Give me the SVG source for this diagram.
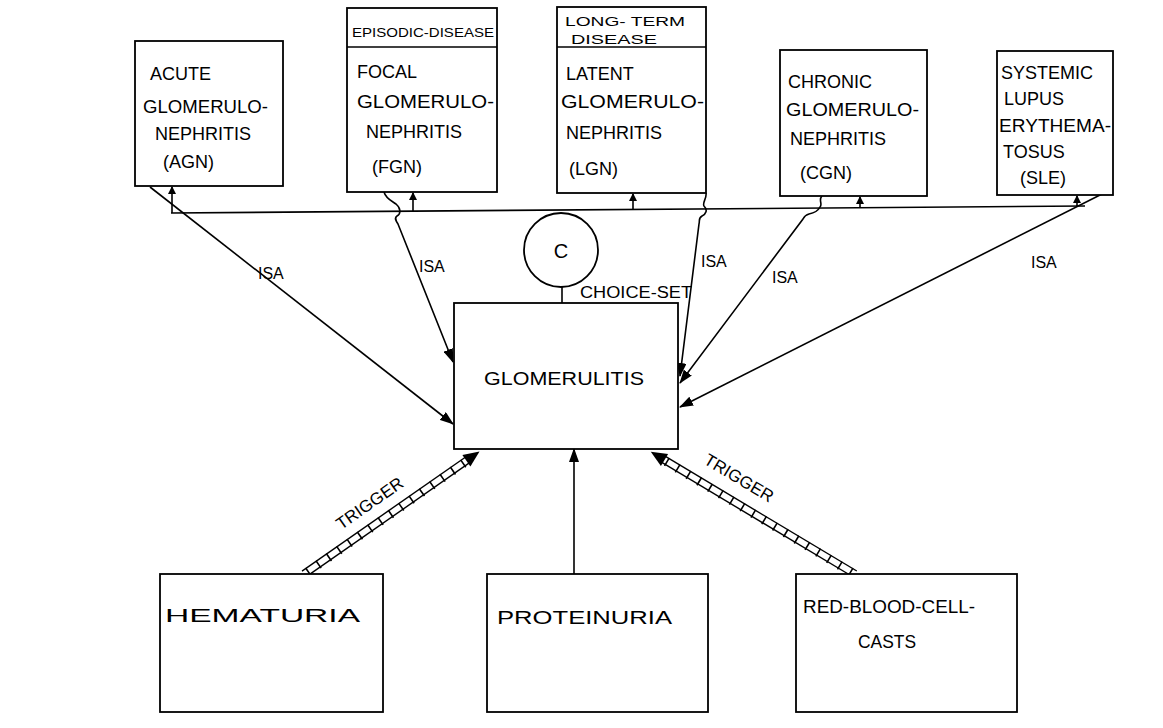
<svg xmlns="http://www.w3.org/2000/svg" width="1163" height="728" viewBox="0 0 1163 728">
<style>
.box{fill:#fff;stroke:#000;stroke-width:1.8}
.ln{fill:none;stroke:#000;stroke-width:1.6}
.t{font-family:"Liberation Sans",Arial,sans-serif;font-size:18px;fill:#000}
.h{font-family:"Liberation Sans",Arial,sans-serif;font-size:13px;fill:#000}
.s{font-family:"Liberation Sans",Arial,sans-serif;font-size:16px;fill:#000}
</style>
<defs>
<marker id="ah" viewBox="0 0 14 10" refX="13" refY="5" markerWidth="14" markerHeight="10" markerUnits="userSpaceOnUse" orient="auto">
<path d="M0,0 L14,5 L0,10 Z" fill="#000"/>
</marker>
<marker id="up" viewBox="0 0 8 8" refX="7" refY="4" markerWidth="8" markerHeight="8" markerUnits="userSpaceOnUse" orient="auto">
<path d="M0,0 L8,4 L0,8 Z" fill="#000"/>
</marker>
</defs>
<rect width="1163" height="728" fill="#fff"/>

<g id="connectors">
<line class="ln" x1="171" y1="213" x2="1085" y2="206"/>
<line class="ln" x1="172" y1="213" x2="172" y2="187" marker-end="url(#up)"/>
<line class="ln" x1="413" y1="212" x2="413" y2="193" marker-end="url(#up)"/>
<line class="ln" x1="633" y1="210" x2="633" y2="194" marker-end="url(#up)"/>
<line class="ln" x1="860" y1="208" x2="860" y2="197" marker-end="url(#up)"/>
<line class="ln" x1="1077" y1="207" x2="1077" y2="196" marker-end="url(#up)"/>
<line class="ln" x1="562" y1="287" x2="562" y2="303"/>
<path class="ln" d="M150,187 L453,424" marker-end="url(#ah)"/>
<path class="ln" d="M384,192 C386,199 392,201 396,204 C401,208 401,214 397,216 C394,218 396,221 398,224 L453,362" marker-end="url(#ah)"/>
<path class="ln" d="M706,193 C707,198 702,203 704,206 C708,210 706,214 702,216 C698,218 700,221 699,224 L680,376" marker-end="url(#ah)"/>
<path class="ln" d="M822,196 C818,200 823,204 820,207 C818,211 814,213 809,214 C805,215 804,217 803,219 L680,383" marker-end="url(#ah)"/>
<path class="ln" d="M1104,193 L680,407" marker-end="url(#ah)"/>
<circle cx="1104" cy="193" r="2" fill="#000"/>
<line class="ln" x1="574" y1="574" x2="574" y2="449" marker-end="url(#ah)"/>
<g transform="translate(304,574) rotate(-34.9)">
<line x1="0" y1="-3.5" x2="200" y2="-3.5" stroke="#000" stroke-width="1.4"/>
<line x1="0" y1="3.5" x2="200" y2="3.5" stroke="#000" stroke-width="1.4"/>
<line x1="4" y1="0.5" x2="200" y2="0.5" stroke="#000" stroke-width="9" stroke-dasharray="1.6 11"/>
<path d="M198,-7 L214,0 L198,7 Z" fill="#000"/>
</g>
<g transform="translate(855,574) rotate(-149.1)">
<line x1="0" y1="-3.5" x2="224" y2="-3.5" stroke="#000" stroke-width="1.4"/>
<line x1="0" y1="3.5" x2="224" y2="3.5" stroke="#000" stroke-width="1.4"/>
<line x1="4" y1="-0.5" x2="224" y2="-0.5" stroke="#000" stroke-width="9" stroke-dasharray="1.6 11"/>
<path d="M222,-7 L238,0 L222,7 Z" fill="#000"/>
</g>
<text class="s" x="258" y="279">ISA</text>
<text class="s" x="419" y="272">ISA</text>
<text class="s" x="701" y="267">ISA</text>
<text class="s" x="772" y="283">ISA</text>
<text class="s" x="1031" y="268">ISA</text>
<text class="s" x="580" y="298" textLength="112" lengthAdjust="spacingAndGlyphs">CHOICE-SET</text>
<text class="t" transform="translate(373,508) rotate(-35)" text-anchor="middle" style="font-size:17px">TRIGGER</text>
<text class="t" transform="translate(736,483) rotate(31)" text-anchor="middle" style="font-size:17px">TRIGGER</text>
</g>

<g id="agn">
<rect class="box" x="135" y="41" width="148" height="145"/>
<text class="t" x="150" y="80">ACUTE</text>
<text class="t" x="143" y="113" textLength="125" lengthAdjust="spacingAndGlyphs">GLOMERULO-</text>
<text class="t" x="155" y="140">NEPHRITIS</text>
<text class="t" x="163" y="168">(AGN)</text>
</g>

<g id="fgn">
<rect class="box" x="347" y="8" width="150" height="184"/>
<line class="ln" x1="347" y1="47" x2="497" y2="47"/>
<text class="h" x="352" y="37" textLength="142" lengthAdjust="spacingAndGlyphs">EPISODIC-DISEASE</text>
<text class="t" x="357" y="78">FOCAL</text>
<text class="t" x="357" y="108" textLength="137" lengthAdjust="spacingAndGlyphs">GLOMERULO-</text>
<text class="t" x="366" y="138">NEPHRITIS</text>
<text class="t" x="372" y="173">(FGN)</text>
</g>

<g id="lgn">
<rect class="box" x="557" y="7" width="149" height="186"/>
<line class="ln" x1="557" y1="47" x2="706" y2="47"/>
<text class="h" x="565" y="26" textLength="120" lengthAdjust="spacingAndGlyphs">LONG- TERM</text>
<text class="h" x="571" y="44" textLength="86" lengthAdjust="spacingAndGlyphs">DISEASE</text>
<text class="t" x="566" y="80">LATENT</text>
<text class="t" x="561" y="108" textLength="143" lengthAdjust="spacingAndGlyphs">GLOMERULO-</text>
<text class="t" x="566" y="139">NEPHRITIS</text>
<text class="t" x="569" y="175">(LGN)</text>
</g>

<g id="cgn">
<rect class="box" x="780" y="50" width="147" height="146"/>
<text class="t" x="788" y="88">CHRONIC</text>
<text class="t" x="786" y="116" textLength="133" lengthAdjust="spacingAndGlyphs">GLOMERULO-</text>
<text class="t" x="790" y="145">NEPHRITIS</text>
<text class="t" x="800" y="179">(CGN)</text>
</g>

<g id="sle">
<rect class="box" x="997" y="51" width="116" height="144"/>
<text class="t" x="1001" y="79">SYSTEMIC</text>
<text class="t" x="1004" y="105">LUPUS</text>
<text class="t" x="999" y="132" textLength="112" lengthAdjust="spacingAndGlyphs">ERYTHEMA-</text>
<text class="t" x="1003" y="158">TOSUS</text>
<text class="t" x="1020" y="184">(SLE)</text>
</g>

<g id="choice">
<circle cx="561" cy="250" r="37" fill="#fff" stroke="#000" stroke-width="1.8"/>
<text class="t" x="561" y="258" text-anchor="middle" style="font-size:20px">C</text>
</g>

<g id="glomerulitis">
<rect class="box" x="454" y="303" width="224" height="146"/>
<text class="t" x="484" y="385" textLength="160" lengthAdjust="spacingAndGlyphs">GLOMERULITIS</text>
</g>

<g id="hematuria">
<rect class="box" x="160" y="574" width="223" height="138"/>
<text class="t" x="165" y="622" textLength="195" lengthAdjust="spacingAndGlyphs">HEMATURIA</text>
</g>

<g id="proteinuria">
<rect class="box" x="487" y="574" width="221" height="138"/>
<text class="t" x="497" y="624" textLength="175" lengthAdjust="spacingAndGlyphs">PROTEINURIA</text>
</g>

<g id="rbc">
<rect class="box" x="796" y="574" width="221" height="138"/>
<text class="t" x="803" y="613" textLength="172" lengthAdjust="spacingAndGlyphs">RED-BLOOD-CELL-</text>
<text class="t" x="858" y="648" textLength="58" lengthAdjust="spacingAndGlyphs">CASTS</text>
</g>
</svg>
